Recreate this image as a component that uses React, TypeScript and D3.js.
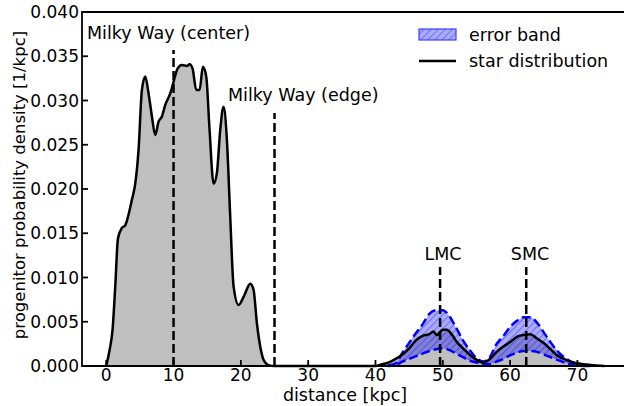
import React, { useRef, useEffect } from 'react';
import * as d3 from 'd3';

// star distribution (Milky Way + LMC + SMC)
const starX = [
  0, 0.5, 0.94, 1.34, 1.74, 2.33, 2.82, 3.82, 4.31, 4.8, 5.3, 5.8, 6.29, 6.79, 7.28, 7.77, 8.27, 8.77,
  9.51, 10.0, 10.6, 11.25, 11.99, 12.38, 12.83, 13.37, 13.87, 14.36, 14.86, 15.35, 15.95, 16.44,
  16.94, 17.43, 17.93, 18.42, 18.92, 19.66, 20.4, 21.4, 21.89, 22.39, 22.88, 23.37, 24.1, 25, 40,
  41, 42, 43, 44, 45, 46, 47, 48, 48.6, 49.1, 50, 50.6, 51.4, 52, 53, 54, 55, 56, 57, 58, 59, 60,
  61, 62, 63, 64, 65, 66, 67, 68, 69, 70, 71, 72, 74,
];
const starY = [
  0, 0.0018, 0.0041, 0.009, 0.0144, 0.0156, 0.0159, 0.0188, 0.0206, 0.0244, 0.0312, 0.0327, 0.0308,
  0.0282, 0.0261, 0.0276, 0.0282, 0.0295, 0.0308, 0.0321, 0.0336, 0.034, 0.0339, 0.0341, 0.0336,
  0.0312, 0.0312, 0.0338, 0.0327, 0.0267, 0.0206, 0.0218, 0.0267, 0.0293, 0.0255, 0.0169, 0.009,
  0.0069, 0.0078, 0.0093, 0.0086, 0.0048, 0.0022, 0.0007, 0.0001, 0, 0,
  0.0002, 0.0004, 0.0008, 0.0013, 0.002, 0.0029, 0.0034, 0.0036, 0.0039, 0.0035, 0.0041, 0.0041,
  0.0035, 0.0028, 0.002, 0.0013, 0.0007, 0.0004, 0.0008, 0.0016, 0.0022, 0.0027, 0.0033, 0.0035,
  0.0036, 0.0031, 0.0026, 0.0019, 0.0012, 0.0008, 0.0005, 0.0003, 0.0002, 0.0001, 0,
];

// error band around LMC / SMC
const bandX = [
  42, 43, 44, 45, 46, 47, 48, 49, 50, 51, 52, 53, 54, 55, 56, 57, 58, 59, 60, 61, 62, 63, 64, 65, 66,
  67, 68, 69, 70, 71, 72,
];
const bandHigh = [
  0.0001, 0.0003, 0.0015, 0.0026, 0.0037, 0.0047, 0.0059, 0.0063, 0.0063, 0.0056, 0.0043, 0.0029,
  0.0018, 0.0009, 0.0005, 0.001, 0.0025, 0.0034, 0.0044, 0.0051, 0.0055, 0.0055, 0.0049, 0.0038,
  0.0027, 0.0017, 0.001, 0.0005, 0.0002, 0.0001, 0,
];
const bandLow = [
  0, 0.0001, 0.0005, 0.0008, 0.0011, 0.0014, 0.0017, 0.0019, 0.002, 0.0018, 0.0014, 0.001, 0.0006,
  0.0004, 0.0002, 0.0002, 0.0005, 0.0008, 0.0012, 0.0015, 0.0017, 0.0017, 0.0016, 0.0013, 0.001,
  0.0007, 0.0004, 0.0002, 0.0001, 0, 0,
];

// reference lines
const markerNames = ['Milky Way (center)', 'Milky Way (edge)', 'LMC', 'SMC'];
const markerX = [10, 25, 49.6, 62.4];
const markerTop = [0.0357, 0.0286, 0.0112, 0.0112];

const xTicks = [0, 10, 20, 30, 40, 50, 60, 70];
const yTicks = [0, 0.005, 0.01, 0.015, 0.02, 0.025, 0.03, 0.035, 0.04];

const W = 624;
const H = 406;
const FONT = 'DejaVu Sans, sans-serif';
const FS = 17.5;
const TICK_FS = 17;

const App: React.FC = () => {
  const svgRef = useRef<SVGSVGElement | null>(null);

  useEffect(() => {
    const svg = d3.select(svgRef.current);
    svg.selectAll('*').remove();

    const left = 82;
    const top = 12;
    const bottom = 366;
    const right = 640;

    const x = d3.scaleLinear().domain([-3.6, 79.3]).range([left, right]);
    const y = d3.scaleLinear().domain([0, 0.04]).range([bottom, top]);

    // hatch pattern for the error band
    const defs = svg.append('defs');
    const pat = defs
      .append('pattern')
      .attr('id', 'hatch')
      .attr('patternUnits', 'userSpaceOnUse')
      .attr('width', 5)
      .attr('height', 5)
      .attr('patternTransform', 'rotate(45)');
    pat.append('rect').attr('width', 5).attr('height', 5).attr('fill', 'rgba(0,0,255,0.33)');
    pat.append('line').attr('x1', 0).attr('y1', 0).attr('x2', 0).attr('y2', 5)
      .attr('stroke', 'rgba(0,0,255,0.35)').attr('stroke-width', 2.2);

    const stars = starX.map((d, i) => [d, starY[i]] as [number, number]);
    const band = bandX.map((d, i) => ({ x: d, lo: bandLow[i], hi: bandHigh[i] }));

    const curve = d3.curveMonotoneX;

    // gray fill under the star distribution
    const area = d3
      .area<[number, number]>()
      .x((d) => x(d[0]))
      .y0(y(0))
      .y1((d) => y(d[1]))
      .curve(curve);
    svg.append('path').datum(stars).attr('d', area).attr('fill', '#bfbfbf');

    // error band
    const bandArea = d3
      .area<{ x: number; lo: number; hi: number }>()
      .x((d) => x(d.x))
      .y0((d) => y(d.lo))
      .y1((d) => y(d.hi))
      .curve(curve);
    svg
      .append('path')
      .datum(band)
      .attr('d', bandArea)
      .attr('fill', 'url(#hatch)')
      .attr('stroke', '#0000ff')
      .attr('stroke-width', 2.5)
      .attr('stroke-dasharray', '9,4');

    // star distribution line
    const line = d3
      .line<[number, number]>()
      .x((d) => x(d[0]))
      .y((d) => y(d[1]))
      .curve(curve);
    svg
      .append('path')
      .datum(stars)
      .attr('d', line)
      .attr('fill', 'none')
      .attr('stroke', 'black')
      .attr('stroke-width', 2.5)
      .attr('stroke-linejoin', 'round');

    // dashed reference lines + labels
    markerX.forEach((mx, i) => {
      svg
        .append('line')
        .attr('x1', x(mx))
        .attr('x2', x(mx))
        .attr('y1', y(0))
        .attr('y2', y(markerTop[i]))
        .attr('stroke', 'black')
        .attr('stroke-width', 2.5)
        .attr('stroke-dasharray', '9,4');
    });
    const labelPos = [
      { x: 87, y: 39, anchor: 'start' },
      { x: 228, y: 101, anchor: 'start' },
      { x: 443, y: 260, anchor: 'middle' },
      { x: 530, y: 260, anchor: 'middle' },
    ];
    markerNames.forEach((name, i) => {
      svg
        .append('text')
        .attr('x', labelPos[i].x)
        .attr('y', labelPos[i].y)
        .attr('text-anchor', labelPos[i].anchor)
        .attr('font-family', FONT)
        .attr('font-size', FS)
        .text(name);
    });

    // spines
    const spine = svg.append('g').attr('stroke', 'black').attr('stroke-width', 1.8);
    spine.append('line').attr('x1', left).attr('x2', left).attr('y1', top - 0.9).attr('y2', bottom + 0.9);
    spine.append('line').attr('x1', left).attr('x2', W + 5).attr('y1', bottom).attr('y2', bottom);
    spine.append('line').attr('x1', left).attr('x2', W + 5).attr('y1', top).attr('y2', top);

    // ticks (inward)
    const ticks = svg.append('g').attr('stroke', 'black').attr('stroke-width', 1.8);
    xTicks.forEach((t) => {
      ticks.append('line').attr('x1', x(t)).attr('x2', x(t)).attr('y1', bottom).attr('y2', bottom - 6);
      svg
        .append('text')
        .attr('x', x(t))
        .attr('y', 381)
        .attr('text-anchor', 'middle')
        .attr('font-family', FONT)
        .attr('font-size', TICK_FS)
        .text(String(t));
    });
    yTicks.forEach((t) => {
      ticks.append('line').attr('x1', left).attr('x2', left + 6).attr('y1', y(t)).attr('y2', y(t));
      svg
        .append('text')
        .attr('x', 79)
        .attr('y', y(t) + 6)
        .attr('text-anchor', 'end')
        .attr('font-family', FONT)
        .attr('font-size', TICK_FS)
        .text(d3.format('.3f')(t));
    });

    // axis labels
    svg
      .append('text')
      .attr('x', 345)
      .attr('y', 401)
      .attr('text-anchor', 'middle')
      .attr('font-family', FONT)
      .attr('font-size', FS)
      .text('distance [kpc]');
    svg
      .append('text')
      .attr('transform', 'translate(25,185) rotate(-90)')
      .attr('text-anchor', 'middle')
      .attr('font-family', FONT)
      .attr('font-size', 16.5)
      .text('progenitor probability density [1/kpc]');

    // legend
    const lg = svg.append('g');
    lg.append('rect')
      .attr('x', 419)
      .attr('y', 29)
      .attr('width', 37)
      .attr('height', 11)
      .attr('fill', 'url(#hatch)')
      .attr('stroke', '#4040ff')
      .attr('stroke-width', 1.2);
    lg.append('text')
      .attr('x', 469)
      .attr('y', 41)
      .attr('font-family', FONT)
      .attr('font-size', FS)
      .text('error band');
    lg.append('line')
      .attr('x1', 419)
      .attr('x2', 456)
      .attr('y1', 61)
      .attr('y2', 61)
      .attr('stroke', 'black')
      .attr('stroke-width', 2.5);
    lg.append('text')
      .attr('x', 469)
      .attr('y', 67)
      .attr('font-family', FONT)
      .attr('font-size', FS)
      .text('star distribution');
  }, []);

  return (
    <svg
      ref={svgRef}
      width={W}
      height={H}
      style={{ position: 'absolute', left: 0, top: 0, background: 'white' }}
    />
  );
};

export default App;
